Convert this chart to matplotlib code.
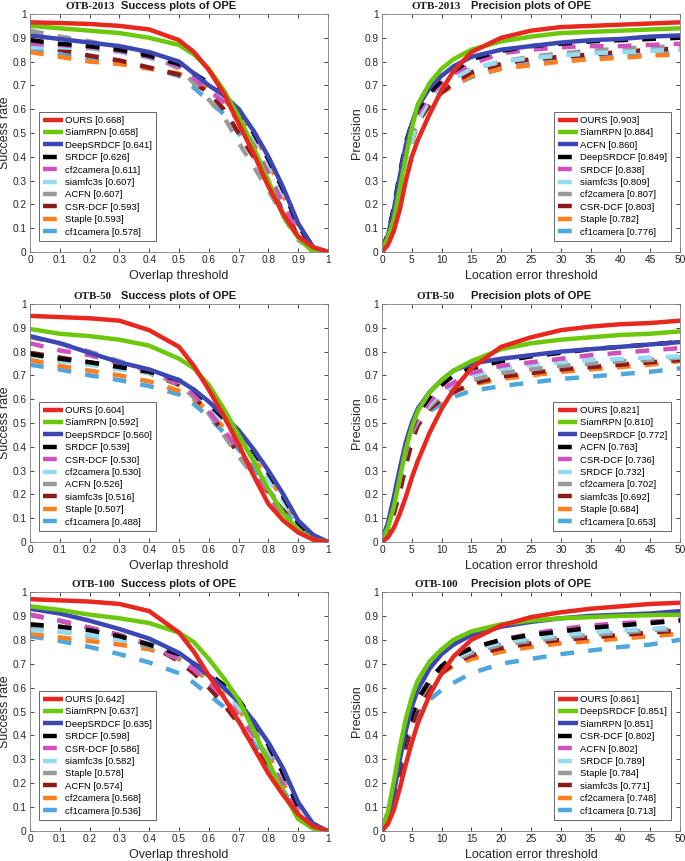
import matplotlib
matplotlib.use("Agg")
import matplotlib.pyplot as plt
import numpy as np

plt.rcParams['font.family'] = ['Liberation Sans', 'DejaVu Sans']

# ---------------- data ----------------
succ_x = [0, 0.1, 0.2, 0.3, 0.4, 0.5, 0.55, 0.6, 0.65, 0.7, 0.75, 0.8, 0.85, 0.9, 0.95, 1.0]
prec_x = [0, 1, 2, 3, 4, 5, 6, 8, 10, 12, 15, 20, 25, 30, 35, 40, 45, 50]

# OTB-2013 success
s13_names = ["OURS [0.668]", "SiamRPN [0.658]", "DeepSRDCF [0.641]", "SRDCF [0.626]", "cf2camera [0.611]",
             "siamfc3s [0.607]", "ACFN [0.607]", "CSR-DCF [0.593]", "Staple [0.593]", "cf1camera [0.578]"]
s13_ours = [0.965, 0.962, 0.958, 0.95, 0.935, 0.89, 0.84, 0.765, 0.667, 0.54, 0.415, 0.275, 0.16, 0.065, 0.02, 0.0]
s13_siamrpn = [0.95, 0.94, 0.93, 0.92, 0.90, 0.87, 0.83, 0.77, 0.68, 0.57, 0.44, 0.30, 0.15, 0.06, 0.0, 0.0]
s13_deepsrdcf = [0.91, 0.895, 0.88, 0.865, 0.84, 0.80, 0.75, 0.70, 0.66, 0.60, 0.51, 0.40, 0.27, 0.12, 0.02, 0.0]
s13_srdcf = [0.89, 0.875, 0.865, 0.85, 0.825, 0.79, 0.75, 0.71, 0.66, 0.60, 0.50, 0.39, 0.26, 0.11, 0.02, 0.0]
s13_cf2camera = [0.875, 0.87, 0.86, 0.845, 0.82, 0.78, 0.73, 0.68, 0.63, 0.55, 0.45, 0.33, 0.20, 0.08, 0.015, 0.0]
s13_siamfc3s = [0.86, 0.86, 0.855, 0.84, 0.815, 0.78, 0.74, 0.69, 0.64, 0.57, 0.47, 0.35, 0.22, 0.09, 0.02, 0.0]
s13_acfn = [0.93, 0.905, 0.885, 0.86, 0.83, 0.77, 0.71, 0.64, 0.57, 0.46, 0.36, 0.26, 0.15, 0.05, 0.01, 0.0]
s13_csrdcf = [0.87, 0.85, 0.825, 0.805, 0.775, 0.745, 0.71, 0.67, 0.60, 0.50, 0.40, 0.28, 0.17, 0.07, 0.01, 0.0]
s13_staple = [0.84, 0.82, 0.80, 0.79, 0.77, 0.75, 0.72, 0.68, 0.64, 0.58, 0.50, 0.38, 0.24, 0.10, 0.02, 0.0]
s13_cf1camera = [0.85, 0.83, 0.81, 0.795, 0.775, 0.74, 0.69, 0.635, 0.58, 0.50, 0.41, 0.29, 0.17, 0.07, 0.01, 0.0]

# OTB-2013 precision
p13_names = ["OURS [0.903]", "SiamRPN [0.884]", "ACFN [0.860]", "DeepSRDCF [0.849]", "SRDCF [0.838]",
             "siamfc3s [0.809]", "cf2camera [0.807]", "CSR-DCF [0.803]", "Staple [0.782]", "cf1camera [0.776]"]
p13_ours = [0, 0.03, 0.09, 0.18, 0.30, 0.40, 0.47, 0.58, 0.68, 0.76, 0.84, 0.90, 0.93, 0.945, 0.95, 0.955, 0.96, 0.965]
p13_siamrpn = [0.01, 0.06, 0.14, 0.27, 0.40, 0.52, 0.62, 0.71, 0.77, 0.81, 0.85, 0.885, 0.905, 0.92, 0.925, 0.93, 0.935, 0.94]
p13_acfn = [0.01, 0.07, 0.18, 0.32, 0.45, 0.54, 0.61, 0.69, 0.74, 0.78, 0.82, 0.85, 0.865, 0.88, 0.89, 0.895, 0.905, 0.91]
p13_deepsrdcf = [0.01, 0.07, 0.19, 0.33, 0.46, 0.54, 0.60, 0.67, 0.72, 0.76, 0.81, 0.845, 0.865, 0.875, 0.885, 0.89, 0.895, 0.90]
p13_srdcf = [0.01, 0.08, 0.18, 0.31, 0.43, 0.52, 0.58, 0.66, 0.71, 0.75, 0.79, 0.835, 0.85, 0.86, 0.865, 0.865, 0.87, 0.875]
p13_siamfc3s = [0.005, 0.05, 0.13, 0.25, 0.37, 0.47, 0.55, 0.64, 0.69, 0.73, 0.77, 0.80, 0.815, 0.825, 0.835, 0.84, 0.845, 0.85]
p13_cf2camera = [0.01, 0.08, 0.17, 0.30, 0.41, 0.50, 0.57, 0.64, 0.69, 0.73, 0.77, 0.80, 0.82, 0.835, 0.845, 0.855, 0.86, 0.865]
p13_csrdcf = [0.01, 0.07, 0.16, 0.29, 0.40, 0.49, 0.55, 0.62, 0.67, 0.71, 0.755, 0.79, 0.81, 0.82, 0.83, 0.84, 0.85, 0.855]
p13_staple = [0.005, 0.05, 0.13, 0.25, 0.37, 0.47, 0.54, 0.62, 0.67, 0.70, 0.74, 0.77, 0.785, 0.80, 0.81, 0.815, 0.825, 0.83]
p13_cf1camera = [0.005, 0.04, 0.12, 0.23, 0.35, 0.46, 0.54, 0.62, 0.67, 0.70, 0.735, 0.77, 0.79, 0.805, 0.815, 0.82, 0.83, 0.84]

# OTB-50 success
s50_names = ["OURS [0.604]", "SiamRPN [0.592]", "DeepSRDCF [0.560]", "SRDCF [0.539]", "CSR-DCF [0.530]",
             "cf2camera [0.530]", "ACFN [0.526]", "siamfc3s [0.516]", "Staple [0.507]", "cf1camera [0.488]"]
s50_ours = [0.95, 0.945, 0.94, 0.93, 0.89, 0.82, 0.74, 0.64, 0.53, 0.41, 0.28, 0.16, 0.09, 0.04, 0.01, 0.0]
s50_siamrpn = [0.895, 0.875, 0.865, 0.85, 0.825, 0.77, 0.73, 0.66, 0.56, 0.45, 0.34, 0.22, 0.12, 0.05, 0.01, 0.0]
s50_deepsrdcf = [0.865, 0.835, 0.795, 0.755, 0.725, 0.68, 0.64, 0.59, 0.53, 0.47, 0.39, 0.30, 0.20, 0.09, 0.03, 0.0]
s50_srdcf = [0.79, 0.77, 0.755, 0.735, 0.715, 0.68, 0.64, 0.58, 0.52, 0.46, 0.38, 0.29, 0.19, 0.08, 0.02, 0.0]
s50_csrdcf = [0.835, 0.805, 0.785, 0.75, 0.72, 0.665, 0.62, 0.55, 0.47, 0.39, 0.30, 0.20, 0.12, 0.05, 0.01, 0.0]
s50_cf2camera = [0.785, 0.76, 0.745, 0.725, 0.71, 0.675, 0.635, 0.57, 0.50, 0.43, 0.35, 0.26, 0.17, 0.07, 0.02, 0.0]
s50_acfn = [0.86, 0.835, 0.80, 0.76, 0.72, 0.66, 0.61, 0.54, 0.45, 0.36, 0.28, 0.19, 0.11, 0.05, 0.01, 0.0]
s50_siamfc3s = [0.795, 0.775, 0.755, 0.735, 0.71, 0.66, 0.61, 0.545, 0.46, 0.37, 0.29, 0.21, 0.13, 0.06, 0.02, 0.0]
s50_staple = [0.765, 0.74, 0.72, 0.70, 0.675, 0.635, 0.60, 0.55, 0.48, 0.42, 0.35, 0.27, 0.18, 0.08, 0.02, 0.0]
s50_cf1camera = [0.745, 0.725, 0.70, 0.68, 0.655, 0.62, 0.58, 0.525, 0.46, 0.39, 0.31, 0.22, 0.14, 0.06, 0.01, 0.0]

# OTB-50 precision
p50_names = ["OURS [0.821]", "SiamRPN [0.810]", "DeepSRDCF [0.772]", "ACFN [0.763]", "CSR-DCF [0.736]",
             "SRDCF [0.732]", "cf2camera [0.702]", "siamfc3s [0.692]", "Staple [0.684]", "cf1camera [0.653]"]
p50_ours = [0, 0.02, 0.06, 0.12, 0.19, 0.27, 0.34, 0.46, 0.56, 0.64, 0.73, 0.82, 0.86, 0.89, 0.905, 0.915, 0.92, 0.93]
p50_siamrpn = [0.01, 0.06, 0.15, 0.27, 0.39, 0.48, 0.55, 0.63, 0.68, 0.72, 0.76, 0.81, 0.835, 0.85, 0.86, 0.87, 0.875, 0.885]
p50_deepsrdcf = [0.01, 0.08, 0.19, 0.31, 0.42, 0.50, 0.56, 0.63, 0.68, 0.72, 0.75, 0.77, 0.785, 0.80, 0.81, 0.82, 0.83, 0.84]
p50_acfn = [0.01, 0.07, 0.17, 0.29, 0.40, 0.48, 0.54, 0.61, 0.66, 0.70, 0.73, 0.76, 0.78, 0.795, 0.81, 0.82, 0.83, 0.84]
p50_csrdcf = [0.01, 0.07, 0.16, 0.27, 0.38, 0.46, 0.52, 0.59, 0.64, 0.67, 0.71, 0.74, 0.755, 0.77, 0.785, 0.795, 0.805, 0.815]
p50_srdcf = [0.01, 0.07, 0.16, 0.27, 0.38, 0.46, 0.51, 0.58, 0.63, 0.66, 0.70, 0.73, 0.745, 0.755, 0.765, 0.77, 0.775, 0.78]
p50_cf2camera = [0.01, 0.07, 0.16, 0.27, 0.38, 0.46, 0.51, 0.57, 0.62, 0.65, 0.68, 0.71, 0.725, 0.74, 0.75, 0.76, 0.765, 0.775]
p50_siamfc3s = [0.005, 0.05, 0.12, 0.21, 0.32, 0.42, 0.49, 0.56, 0.60, 0.63, 0.665, 0.695, 0.71, 0.725, 0.735, 0.745, 0.755, 0.765]
p50_staple = [0.01, 0.07, 0.16, 0.27, 0.37, 0.45, 0.50, 0.56, 0.60, 0.63, 0.66, 0.685, 0.70, 0.715, 0.725, 0.735, 0.745, 0.76]
p50_cf1camera = [0.01, 0.06, 0.15, 0.26, 0.36, 0.44, 0.49, 0.55, 0.58, 0.61, 0.635, 0.655, 0.67, 0.685, 0.695, 0.705, 0.715, 0.73]

# OTB-100 success
s100_names = ["OURS [0.642]", "SiamRPN [0.637]", "DeepSRDCF [0.635]", "SRDCF [0.598]", "CSR-DCF [0.586]",
              "siamfc3s [0.582]", "Staple [0.578]", "ACFN [0.574]", "cf2camera [0.568]", "cf1camera [0.536]"]
s100_ours = [0.97, 0.965, 0.96, 0.95, 0.92, 0.83, 0.75, 0.65, 0.56, 0.46, 0.35, 0.24, 0.15, 0.07, 0.02, 0.0]
s100_siamrpn = [0.94, 0.925, 0.905, 0.89, 0.87, 0.83, 0.79, 0.72, 0.64, 0.55, 0.42, 0.29, 0.16, 0.05, 0.01, 0.0]
s100_deepsrdcf = [0.93, 0.91, 0.88, 0.845, 0.805, 0.745, 0.70, 0.65, 0.60, 0.54, 0.46, 0.37, 0.26, 0.12, 0.03, 0.0]
s100_srdcf = [0.865, 0.855, 0.84, 0.815, 0.78, 0.74, 0.70, 0.66, 0.61, 0.55, 0.46, 0.36, 0.24, 0.10, 0.03, 0.0]
s100_csrdcf = [0.905, 0.88, 0.85, 0.82, 0.78, 0.72, 0.675, 0.62, 0.56, 0.48, 0.40, 0.30, 0.19, 0.07, 0.02, 0.0]
s100_siamfc3s = [0.84, 0.835, 0.82, 0.80, 0.785, 0.745, 0.70, 0.65, 0.59, 0.52, 0.42, 0.31, 0.19, 0.07, 0.01, 0.0]
s100_staple = [0.855, 0.835, 0.815, 0.80, 0.77, 0.72, 0.68, 0.63, 0.58, 0.52, 0.43, 0.33, 0.22, 0.09, 0.02, 0.0]
s100_acfn = [0.905, 0.88, 0.85, 0.82, 0.78, 0.71, 0.66, 0.60, 0.53, 0.45, 0.36, 0.26, 0.16, 0.06, 0.02, 0.0]
s100_cf2camera = [0.825, 0.81, 0.795, 0.78, 0.76, 0.72, 0.675, 0.63, 0.57, 0.51, 0.42, 0.32, 0.20, 0.08, 0.02, 0.0]
s100_cf1camera = [0.815, 0.795, 0.77, 0.74, 0.705, 0.66, 0.62, 0.57, 0.52, 0.46, 0.37, 0.27, 0.17, 0.07, 0.01, 0.0]

# OTB-100 precision
p100_names = ["OURS [0.861]", "DeepSRDCF [0.851]", "SiamRPN [0.851]", "CSR-DCF [0.802]", "ACFN [0.802]",
              "SRDCF [0.789]", "Staple [0.784]", "siamfc3s [0.771]", "cf2camera [0.748]", "cf1camera [0.713]"]
p100_ours = [0, 0.03, 0.09, 0.18, 0.28, 0.37, 0.45, 0.57, 0.66, 0.73, 0.80, 0.86, 0.895, 0.915, 0.93, 0.94, 0.95, 0.955]
p100_deepsrdcf = [0.01, 0.08, 0.21, 0.35, 0.47, 0.56, 0.63, 0.71, 0.76, 0.80, 0.835, 0.865, 0.88, 0.89, 0.895, 0.90, 0.903, 0.905]
p100_siamrpn = [0.01, 0.06, 0.16, 0.30, 0.42, 0.52, 0.59, 0.68, 0.74, 0.78, 0.82, 0.855, 0.875, 0.89, 0.90, 0.905, 0.91, 0.92]
p100_csrdcf = [0.01, 0.06, 0.16, 0.29, 0.40, 0.48, 0.55, 0.63, 0.69, 0.73, 0.765, 0.80, 0.82, 0.835, 0.85, 0.86, 0.87, 0.88]
p100_acfn = [0.01, 0.06, 0.16, 0.29, 0.40, 0.48, 0.55, 0.63, 0.69, 0.73, 0.765, 0.80, 0.825, 0.845, 0.86, 0.87, 0.875, 0.885]
p100_srdcf = [0.01, 0.06, 0.16, 0.29, 0.40, 0.48, 0.55, 0.63, 0.69, 0.72, 0.755, 0.79, 0.805, 0.82, 0.83, 0.84, 0.845, 0.855]
p100_staple = [0.01, 0.07, 0.17, 0.29, 0.40, 0.48, 0.54, 0.62, 0.68, 0.71, 0.745, 0.78, 0.795, 0.81, 0.82, 0.83, 0.84, 0.845]
p100_siamfc3s = [0.005, 0.05, 0.13, 0.24, 0.35, 0.44, 0.51, 0.60, 0.66, 0.70, 0.735, 0.765, 0.785, 0.80, 0.81, 0.82, 0.83, 0.84]
p100_cf2camera = [0.01, 0.08, 0.18, 0.30, 0.40, 0.47, 0.53, 0.61, 0.66, 0.69, 0.72, 0.75, 0.77, 0.785, 0.795, 0.805, 0.815, 0.825]
p100_cf1camera = [0.01, 0.07, 0.16, 0.27, 0.37, 0.44, 0.49, 0.55, 0.59, 0.62, 0.66, 0.70, 0.72, 0.74, 0.755, 0.77, 0.78, 0.80]

# ---------------- styling ----------------
rank_colors = ["#e8281e", "#6cc80a", "#3c46b4", "#000000", "#d050be",
               "#96dcf0", "#9a9a9a", "#8b1a1a", "#ff7f1e", "#4ea6dd"]
LW = 3.2
DASH = (0, (3.1, 3.2))

panels = [
    ("OTB-2013", "Success", succ_x, s13_names,
     [s13_ours, s13_siamrpn, s13_deepsrdcf, s13_srdcf, s13_cf2camera, s13_siamfc3s, s13_acfn, s13_csrdcf, s13_staple, s13_cf1camera]),
    ("OTB-2013", "Precision", prec_x, p13_names,
     [p13_ours, p13_siamrpn, p13_acfn, p13_deepsrdcf, p13_srdcf, p13_siamfc3s, p13_cf2camera, p13_csrdcf, p13_staple, p13_cf1camera]),
    ("OTB-50", "Success", succ_x, s50_names,
     [s50_ours, s50_siamrpn, s50_deepsrdcf, s50_srdcf, s50_csrdcf, s50_cf2camera, s50_acfn, s50_siamfc3s, s50_staple, s50_cf1camera]),
    ("OTB-50", "Precision", prec_x, p50_names,
     [p50_ours, p50_siamrpn, p50_deepsrdcf, p50_acfn, p50_csrdcf, p50_srdcf, p50_cf2camera, p50_siamfc3s, p50_staple, p50_cf1camera]),
    ("OTB-100", "Success", succ_x, s100_names,
     [s100_ours, s100_siamrpn, s100_deepsrdcf, s100_srdcf, s100_csrdcf, s100_siamfc3s, s100_staple, s100_acfn, s100_cf2camera, s100_cf1camera]),
    ("OTB-100", "Precision", prec_x, p100_names,
     [p100_ours, p100_deepsrdcf, p100_siamrpn, p100_csrdcf, p100_acfn, p100_srdcf, p100_staple, p100_siamfc3s, p100_cf2camera, p100_cf1camera]),
]

W, H = 685, 861
fig = plt.figure(figsize=(W / 100, H / 100), dpi=100)

# pixel boxes (left, top, right, bottom)
boxes = [
    (30, 14, 328, 252), (382, 14, 680, 252),
    (30, 304, 328, 542), (382, 304, 680, 542),
    (30, 592, 328, 831), (382, 592, 680, 831),
]
# right edge (px) of the dataset name in each title
ds_right = [115, 461, 112, 455, 115, 458]

TXT = "#262626"
for k, ((ds, kind, xs, names, series), (l, t, r, b)) in enumerate(zip(panels, boxes)):
    ax = fig.add_axes([l / W, 1 - b / H, (r - l) / W, (b - t) / H])
    handles = [None] * len(series)
    for i in range(len(series) - 1, -1, -1):
        ls = "-" if i < 3 else DASH
        h, = ax.plot(xs, series[i], color=rank_colors[i], lw=LW, linestyle=ls,
                     solid_capstyle="butt", dash_capstyle="butt", solid_joinstyle="round",
                     label=names[i])
        handles[i] = h
    legkw = dict(fontsize=6.8, handlelength=2.1, handletextpad=0.25, labelspacing=0.36,
                 borderpad=0.45, borderaxespad=0.3, frameon=True, fancybox=False, edgecolor="#404040")
    if kind == "Success":
        ax.set_xlim(0, 1)
        ax.set_xticks(np.arange(0, 1.01, 0.1))
        ax.set_xticklabels(["0", "0.1", "0.2", "0.3", "0.4", "0.5", "0.6", "0.7", "0.8", "0.9", "1"])
        ax.set_xlabel("Overlap threshold", fontsize=9, color=TXT)
        ax.set_ylabel("Success rate", fontsize=9, color=TXT)
        leg = ax.legend(handles=handles, loc="lower left", bbox_to_anchor=(0.02, 0.035), **legkw)
        title = "Success plots of OPE"
    else:
        ax.set_xlim(0, 50)
        ax.set_xticks(np.arange(0, 51, 5))
        ax.set_xlabel("Location error threshold", fontsize=9, color=TXT)
        ax.set_ylabel("Precision", fontsize=9, color=TXT)
        leg = ax.legend(handles=handles, loc="lower right", bbox_to_anchor=(0.98, 0.035), **legkw)
        title = "Precision plots of OPE"
    leg.get_frame().set_linewidth(0.7)
    ax.xaxis.set_label_coords(0.5, -0.075)
    ax.yaxis.set_label_coords(-0.063, 0.5)
    ax.set_ylim(0, 1)
    ax.set_yticks(np.arange(0, 1.01, 0.1))
    ax.set_yticklabels(["0", "0.1", "0.2", "0.3", "0.4", "0.5", "0.6", "0.7", "0.8", "0.9", "1"])
    ax.tick_params(direction="in", length=3, width=0.6, labelsize=7.3, colors=TXT,
                   top=True, right=True, pad=2.5)
    for sp in ax.spines.values():
        sp.set_linewidth(0.6)
        sp.set_color("#808080")
    ax.text(0.5, 1.014, title, transform=ax.transAxes, ha="center", va="bottom",
            fontsize=8, fontweight="bold", family="Liberation Sans", color="#1a1a1a")
    ax.text((ds_right[k] - l) / (r - l), 1.014, ds, transform=ax.transAxes, ha="right", va="bottom",
            fontsize=8, fontweight="bold", family="Liberation Serif", color="#1a1a1a")

fig.savefig("out.png", dpi=100)
